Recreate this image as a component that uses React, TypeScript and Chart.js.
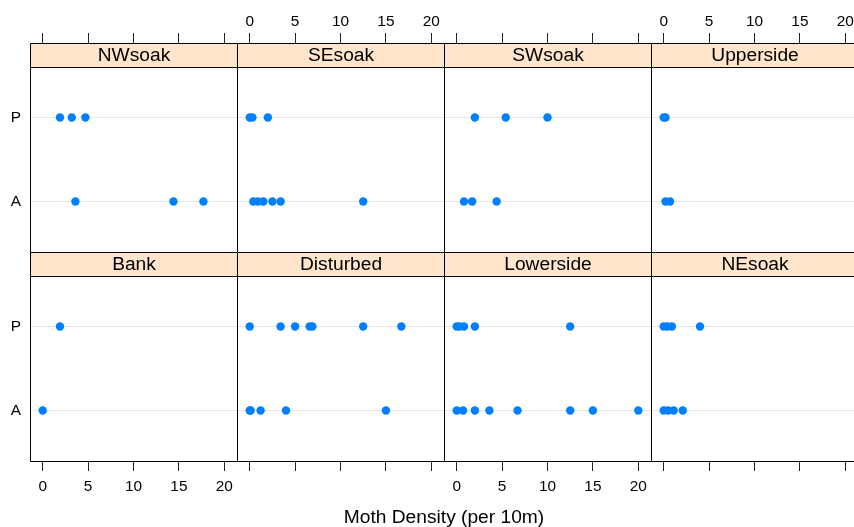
import React, { useEffect, useRef } from 'react';
import { Chart, registerables } from 'chart.js';

Chart.register(...registerables);

// ---- data ----
const PANEL_NAMES = ['NWsoak', 'SEsoak', 'SWsoak', 'Upperside', 'Bank', 'Disturbed', 'Lowerside', 'NEsoak'];
const HABITAT_LEVELS = ['A', 'P'];
const X_TICKS = [0, 5, 10, 15, 20];
const AXIS_TITLE = 'Moth Density (per 10m)';

const nwsoakA = [3.6, 14.4, 17.7];
const nwsoakP = [1.9, 3.2, 4.7];
const sesoakA = [0.4, 0.9, 1.5, 2.5, 3.4, 12.5];
const sesoakP = [0, 0.3, 2.0];
const swsoakA = [0.8, 1.7, 4.4];
const swsoakP = [2.0, 5.4, 10.0];
const uppersideA = [0.2, 0.7];
const uppersideP = [0, 0.2];
const bankA = [0];
const bankP = [1.9];
const disturbedA = [0, 0.1, 1.2, 4.0, 15.0];
const disturbedP = [0, 3.4, 5.0, 6.6, 6.9, 12.5, 16.7];
const lowersideA = [0, 0.7, 2.0, 3.6, 6.7, 12.5, 15.0, 20.0];
const lowersideP = [0, 0.3, 0.8, 2.0, 12.5];
const nesoakA = [0, 0.5, 1.1, 2.1];
const nesoakP = [0, 0.4, 0.9, 4.0];

const SERIES_A = [nwsoakA, sesoakA, swsoakA, uppersideA, bankA, disturbedA, lowersideA, nesoakA];
const SERIES_P = [nwsoakP, sesoakP, swsoakP, uppersideP, bankP, disturbedP, lowersideP, nesoakP];

// ---- layout / style ----
const X_MIN = -1.4;
const X_MAX = 21.4;
const COL_LEFT = [30, 237, 444, 651];
const ROW_TOP = [43, 252];
const PANEL_W = 207;
const STRIP_H = 24;
const PLOT_H = 185;
const Y_MIN = 0.4;
const Y_PLOT_MAX = 2.6;
const Y_MAX = Y_PLOT_MAX + ((Y_PLOT_MAX - Y_MIN) * STRIP_H) / PLOT_H;
const PAD_L = 30;
const PAD_T = 43;
const PAD_B = 50;
const PAD_R = 30;
const FONT = '"Liberation Sans", Arial, Helvetica, sans-serif';
const POINT_COLOR = '#0080ff';

Chart.defaults.font.family = FONT;

function Panel({ idx }: { idx: number }) {
  const ref = useRef<HTMLCanvasElement | null>(null);
  const row = Math.floor(idx / 4);
  const col = idx % 4;
  useEffect(() => {
    const name = PANEL_NAMES[idx];
    const pts = [
      ...SERIES_A[idx].map((x) => ({ x, y: 1 })),
      ...SERIES_P[idx].map((x) => ({ x, y: 2 })),
    ];
    const showXLabels = row === 0 ? col % 2 === 1 : col % 2 === 0;
    const drawRight = col !== 3;
    const stripPlugin = {
      id: 'strip' + idx,
      afterDraw(chart: any) {
        const { ctx, chartArea } = chart;
        const { left, top, right, bottom } = chartArea;
        const l = left + 0.5;
        const r = right + 0.5;
        const t = top + 0.5;
        const b = bottom + 0.5;
        const s = top + STRIP_H + 0.5;
        ctx.save();
        ctx.fillStyle = '#ffe5cc';
        ctx.fillRect(left, top, right - left, STRIP_H);
        ctx.strokeStyle = '#000';
        ctx.lineWidth = 1;
        ctx.beginPath();
        ctx.moveTo(l, t);
        ctx.lineTo(r, t);
        ctx.moveTo(l, s);
        ctx.lineTo(r, s);
        ctx.moveTo(l, b);
        ctx.lineTo(r, b);
        ctx.moveTo(l, t);
        ctx.lineTo(l, b);
        if (drawRight) {
          ctx.moveTo(r, t);
          ctx.lineTo(r, b);
        }
        ctx.stroke();
        ctx.fillStyle = '#000';
        ctx.font = '19.2px ' + FONT;
        ctx.textAlign = 'center';
        ctx.textBaseline = 'middle';
        ctx.fillText(name, (left + right) / 2 + 0.5, top + STRIP_H / 2 + 1);
        ctx.restore();
      },
    };
    const chart = new Chart(ref.current as HTMLCanvasElement, {
      type: 'scatter',
      data: {
        datasets: [
          {
            data: pts,
            pointRadius: 4.2,
            pointHoverRadius: 4.2,
            pointBackgroundColor: POINT_COLOR,
            pointBorderColor: POINT_COLOR,
            pointBorderWidth: 0,
            showLine: false,
          },
        ],
      },
      options: {
        animation: false,
        responsive: false,
        devicePixelRatio: 1,
        events: [],
        layout: {
          padding: {
            left: 0,
            right: PAD_R,
            top: row === 0 ? 0 : PAD_T,
            bottom: row === 0 ? PAD_B : 0,
          },
        },
        plugins: {
          legend: { display: false },
          tooltip: { enabled: false },
          title: { display: false },
        },
        scales: {
          x: {
            type: 'linear',
            position: row === 0 ? 'top' : 'bottom',
            min: X_MIN,
            max: X_MAX,
            afterBuildTicks: (s: any) => {
              s.ticks = X_TICKS.map((v) => ({ value: v }));
            },
            afterFit: (s: any) => {
              s.height = row === 0 ? PAD_T : PAD_B;
            },
            grid: {
              display: true,
              drawOnChartArea: false,
              drawTicks: true,
              tickLength: 10,
              color: '#222',
              lineWidth: 1,
            },
            border: { display: false },
            ticks: {
              display: showXLabels,
              autoSkip: false,
              maxRotation: 0,
              minRotation: 0,
              padding: row === 0 ? 2 : 7,
              color: '#000',
              font: { size: 15.4, family: FONT },
            },
          },
          y: {
            type: 'linear',
            position: 'left',
            min: Y_MIN,
            max: Y_MAX,
            afterBuildTicks: (s: any) => {
              s.ticks = HABITAT_LEVELS.map((_, i) => ({ value: i + 1 }));
            },
            afterFit: (s: any) => {
              s.width = PAD_L;
            },
            grid: { color: '#e6e6e6', drawTicks: false, lineWidth: 1 },
            border: { display: false },
            ticks: {
              display: col === 0,
              padding: 9,
              color: '#000',
              font: { size: 15.4, family: FONT },
              callback: (v: any) => HABITAT_LEVELS[Number(v) - 1],
            },
          },
        },
      },
      plugins: [stripPlugin],
    } as any);
    return () => chart.destroy();
  }, [idx, row, col]);
  return (
    <canvas
      ref={ref}
      width={PAD_L + PANEL_W + PAD_R}
      height={PAD_T + STRIP_H + PLOT_H + PAD_B}
      style={{ position: 'absolute', left: COL_LEFT[col] - PAD_L, top: ROW_TOP[row] - PAD_T }}
    />
  );
}

export default function App() {
  return (
    <div
      style={{
        position: 'absolute',
        left: 0,
        top: 0,
        width: 854,
        height: 527,
        overflow: 'hidden',
        background: '#fff',
      }}
    >
      {PANEL_NAMES.map((_, i) => (
        <Panel key={i} idx={i} />
      ))}
      <div
        style={{
          position: 'absolute',
          left: COL_LEFT[0],
          width: PANEL_W * 4,
          top: 505,
          lineHeight: '24px',
          textAlign: 'center',
          fontFamily: FONT,
          fontSize: 19.2,
          color: '#000',
        }}
      >
        {AXIS_TITLE}
      </div>
    </div>
  );
}
